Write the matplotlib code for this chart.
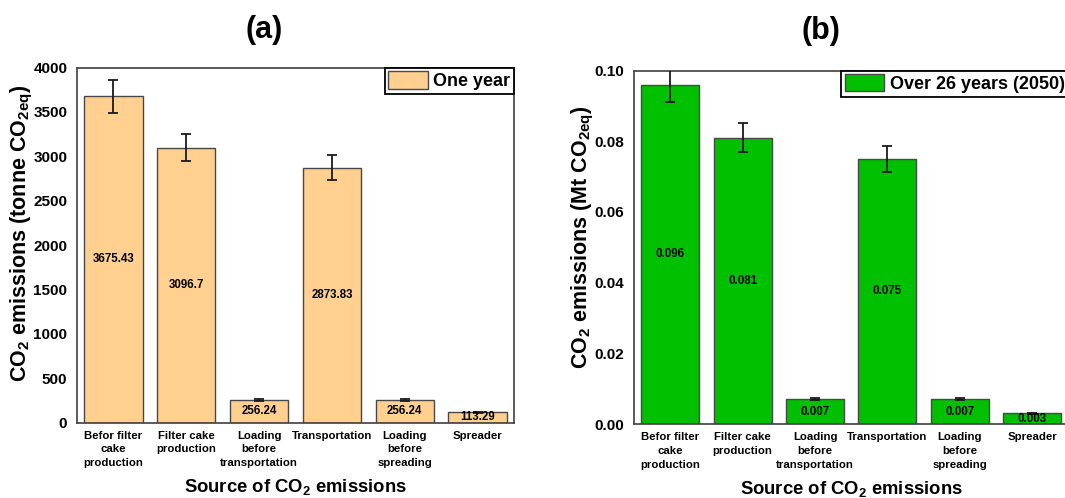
import matplotlib
matplotlib.use("Agg")
import matplotlib.pyplot as plt
from matplotlib.ticker import FormatStrFormatter
import numpy as np

plt.rcParams["font.family"] = ["Liberation Sans", "DejaVu Sans"]
plt.rcParams["font.weight"] = "bold"
plt.rcParams["mathtext.fontset"] = "custom"
plt.rcParams["mathtext.rm"] = "Liberation Sans:bold"
plt.rcParams["mathtext.bf"] = "Liberation Sans:bold"
plt.rcParams["mathtext.default"] = "bf"

# Emission sources
categories = ["Befor filter\ncake\nproduction", "Filter cake\nproduction",
              "Loading\nbefore\ntransportation", "Transportation",
              "Loading\nbefore\nspreading", "Spreader"]

# (a) one year, tonne CO2eq
one_year = [3675.43, 3096.7, 256.24, 2873.83, 256.24, 113.29]
one_year_labels = ["3675.43", "3096.7", "256.24", "2873.83", "256.24", "113.29"]

# (b) over 26 years, Mt CO2eq
over_26 = [0.096, 0.081, 0.007, 0.075, 0.007, 0.003]
over_26_labels = ["0.096", "0.081", "0.007", "0.075", "0.007", "0.003"]

rel_err = 0.05  # relative uncertainty shown by the error bars

W, H = 1065, 498
fig = plt.figure(figsize=(W / 100, H / 100), dpi=100)


def px_axes(left, top, right, bottom):
    return fig.add_axes([left / W, 1 - bottom / H, (right - left) / W, (bottom - top) / H])


def panel(ax, values, labels, color, legend_label, yticks, ylim, ylabel, fmt,
          ylab_x, ylab_y, xlab_y):
    x = np.arange(len(categories))
    errs = [v * rel_err for v in values]
    ax.bar(x, values, width=0.8, color=color, edgecolor="#484848", linewidth=1.0,
           label=legend_label, zorder=2)
    ax.errorbar(x, values, yerr=errs, fmt="none", ecolor="#1a1a1a", elinewidth=1.3,
                capsize=3.5, capthick=1.3, zorder=3)
    for xi, v, lab in zip(x, values, labels):
        ax.text(xi, v / 2, lab, ha="center", va="center", fontsize=8.3,
                fontweight="bold", zorder=4)
    ax.set_xlim(-0.5, len(categories) - 0.5)
    ax.set_ylim(*ylim)
    ax.set_yticks(yticks)
    ax.yaxis.set_major_formatter(FormatStrFormatter(fmt))
    ax.set_xticks(x)
    ax.set_xticklabels(categories, fontsize=8.2, fontweight="bold", linespacing=1.45)
    ax.tick_params(axis="both", length=0)
    ax.tick_params(axis="y", labelsize=11, pad=7)
    ax.tick_params(axis="x", pad=6)
    for s in ax.spines.values():
        s.set_color("#404040")
        s.set_linewidth(1.2)
    ax.set_ylabel(ylabel, fontsize=15.5, fontweight="bold")
    ax.yaxis.label.set_va("center")
    ax.yaxis.set_label_coords(ylab_x, ylab_y)
    ax.set_xlabel("Source of CO$_2$ emissions", fontsize=13.3, fontweight="bold")
    ax.xaxis.label.set_va("center")
    ax.xaxis.set_label_coords(0.5, xlab_y)
    leg = ax.legend(loc="upper right", borderaxespad=0, fancybox=False, framealpha=1,
                    edgecolor="black", prop={"size": 13, "weight": "bold"},
                    handlelength=2.2, handleheight=1.1, handletextpad=0.3,
                    borderpad=0.2)
    leg.get_frame().set_linewidth(1.3)


ax1 = px_axes(77, 67.6, 514, 422.5)
panel(ax1, one_year, one_year_labels, "#FFD08F", "One year",
      np.arange(0, 4001, 500), (0, 4000),
      "CO$_2$ emissions (tonne CO$_{2eq}$)", "%d",
      (22 - 77) / 437, (422.5 - 233) / 355, -(487.5 - 422.5) / 355)

ax2 = px_axes(634, 70.5, 1068.5, 424)
panel(ax2, over_26, over_26_labels, "#00C000", "Over 26 years (2050)",
      np.arange(0, 0.1001, 0.02), (0, 0.10),
      "CO$_2$ emissions (Mt CO$_{2eq}$)", "%.2f",
      (583 - 634) / 434.5, (424 - 237) / 353.5, -(488.5 - 424) / 353.5)

fig.text(264 / W, 1 - 30 / H, "(a)", ha="center", va="center", fontsize=22, fontweight="bold")
fig.text(821 / W, 1 - 30.7 / H, "(b)", ha="center", va="center", fontsize=22, fontweight="bold")

fig.savefig("out.png", dpi=100)
